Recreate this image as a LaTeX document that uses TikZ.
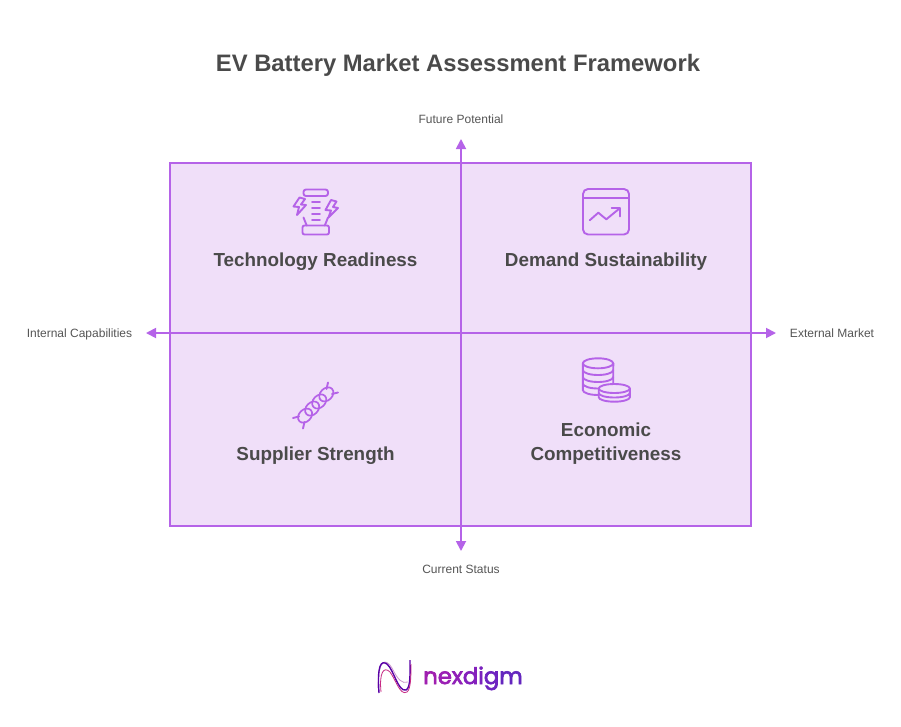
\documentclass[tikz,border=0pt]{standalone}
\usepackage{fontspec}
\setmainfont{Liberation Sans}
\newfontfamily\logofont[FakeBold=3]{Poppins}
\usetikzlibrary{arrows.meta}
\definecolor{acc}{HTML}{B563E8}
\definecolor{pane}{HTML}{F0DFF9}
\definecolor{ink}{HTML}{4A4A4A}
\definecolor{axl}{HTML}{555555}
\tikzset{
  x=1pt,y=-1pt,
  axis/.style={draw=acc,line width=1.8pt,{Triangle[length=10pt,width=10pt]}-{Triangle[length=10pt,width=10pt]}},
  ico/.style={draw=acc,line width=1.9pt,line cap=round,line join=round},
  head/.style={text=ink,font=\bfseries\fontsize{18.85}{24}\selectfont,align=center,inner sep=0pt},
  axlab/.style={text=axl,font=\fontsize{12}{14}\selectfont,inner sep=0pt,anchor=base},
}
\begin{document}
\begin{tikzpicture}
\useasboundingbox (0,0) rectangle (901,726);
\fill[white] (0,0) rectangle (901,726);
\node[text=ink,font=\bfseries\fontsize{23.8}{30}\selectfont,inner sep=0pt] (title) at (458,65.5) {EV Battery Market Assessment Framework};
\node[draw=acc,fill=pane,line width=2pt,minimum width=581pt,minimum height=363pt,inner sep=0pt] (board) at (460.5,344.5) {};
\coordinate (top) at (461,139);
\coordinate (bot) at (461,551);
\coordinate (lft) at (146,333);
\coordinate (rgt) at (776,333);
\draw[axis] (top) -- (bot);
\draw[axis] (lft) -- (rgt);
\node[axlab] (lt) at (461,123.5) {Future Potential};
\node[axlab] (lb) at (461,573.5) {Current Status};
\node[axlab] (ll) at (79.5,337) {Internal Capabilities};
\node[axlab] (lr) at (832,337) {External Market};
\node[head] (q1) at (315.5,262) {Technology Readiness};
\node[head] (q2) at (606,262) {Demand Sustainability};
\node[head] (q3) at (315.5,456) {Supplier Strength};
\node[head] (q4) at (606,444) {Economic\\Competitiveness};
% icon 1
\draw[ico,rounded corners=2.5pt] (303.5,189.5) rectangle (328,196);
\draw[ico,rounded corners=2pt] (302.5,225.5) rectangle (329,234.5);
\draw[ico] (312,201.7) -- (320,201.7) (312,207.7) -- (320,207.7) (312,213.7) -- (320,213.7) (312,219.7) -- (320,219.7);
\draw[ico] (303.5,217.5) -- (306.7,225.5) (328,217.5) -- (324.8,225.5);
\draw[ico] (299.5,197.5) -- (293.5,206.5) -- (299,207) -- (297,215) -- (306,205) -- (301,204.5) -- (305,199) -- cycle;
\draw[ico] (331,200) -- (325.5,210) -- (331,210.5) -- (328.5,217.5) -- (338,208) -- (333,207) -- (336.5,201.5) -- cycle;
% icon 2
\draw[ico,rounded corners=5pt] (583,189) rectangle (629,234.5);
\draw[ico] (583,197.7) -- (629,197.7);
\draw[ico] (589.7,220.3) -- (598.3,212.7) -- (606.3,219.3) -- (619.7,208.3);
\draw[ico] (611.7,207.7) -- (620.3,207.7) -- (620.3,216.3);
% icon 3
\begin{scope}[shift={(315.7,405)},rotate=45]
\foreach \c in {-15,-5,5,15} {
\draw[ico,line width=1.7pt,rotate around={0:(\c,0)}] (\c,0) ellipse[x radius=8,y radius=6];
}
\end{scope}
\draw[ico] (293,418) -- (299,416.5) (303,428.5) -- (304.5,422) (328,382.5) -- (326.5,389) (338,392.5) -- (332,394);
% icon 4
\draw[ico,fill=pane] (582.8,363.3) -- (582.8,390) arc[start angle=180,end angle=0,x radius=15.2,y radius=5] -- (613.3,363.3);
\draw[ico] (598,363.3) ellipse[x radius=15.2,y radius=5];
\draw[ico] (582.8,370) arc[start angle=180,end angle=0,x radius=15.2,y radius=5];
\draw[ico] (582.8,377) arc[start angle=180,end angle=0,x radius=15.2,y radius=5];
\draw[ico] (582.8,383.5) arc[start angle=180,end angle=0,x radius=15.2,y radius=5];
\draw[ico,fill=pane] (598.7,388.5) -- (598.7,397.2) arc[start angle=180,end angle=0,x radius=15.6,y radius=4.5] -- (629.9,388.5);
\draw[ico,fill=pane] (614.3,388.5) ellipse[x radius=15.6,y radius=4.5];
\draw[ico] (598.7,393) arc[start angle=180,end angle=0,x radius=15.6,y radius=4.5];
% logo
\draw[color=violet!40,line width=.8pt] (378,688) .. controls (378,658) and (386,658) .. (392,668) .. controls (398,680) and (402,684) .. (408,682);
\draw[color=violet!70!blue,line width=1.4pt] (379,693) .. controls (377,665) and (381,660) .. (387,664) .. controls (394,670) and (398,692) .. (406,690) .. controls (411,688) and (410,670) .. (410,660);
\draw[color=magenta!60!violet,line width=.8pt] (381,692) .. controls (379,672) and (384,666) .. (390,672) .. controls (396,680) and (400,696) .. (407,692) .. controls (411,689) and (411,675) .. (411,664);
\node[inner sep=0pt,anchor=base west,font=\logofont\fontsize{22.8}{28}\selectfont] (logo) at (423,684) {\textcolor[HTML]{A01FB0}{n}\textcolor[HTML]{9A1FB4}{e}\textcolor[HTML]{9020B8}{x}\textcolor[HTML]{8420BC}{d}\textcolor[HTML]{7A22BE}{i}\textcolor[HTML]{6E24C0}{g}\textcolor[HTML]{6426BE}{m}};
\end{tikzpicture}
\end{document}
